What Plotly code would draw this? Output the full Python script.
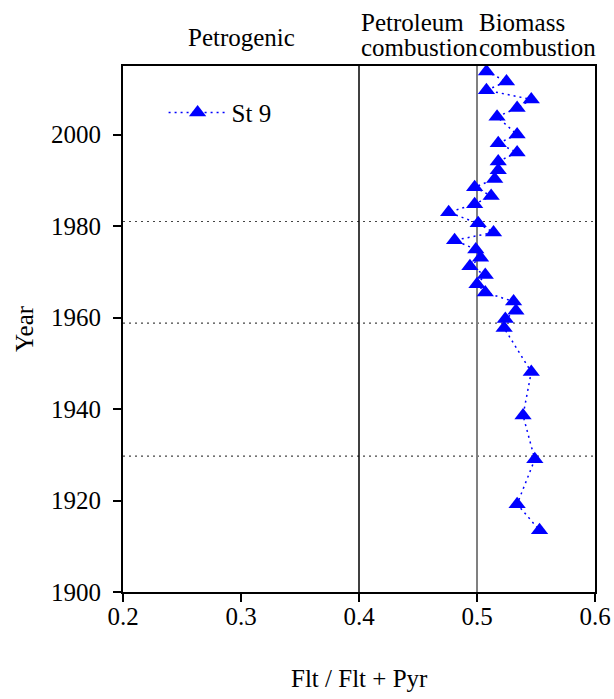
import plotly.graph_objects as go

# Data
years = [2013.8, 2011.6, 2009.7, 2007.7, 2005.8, 2003.9, 2000.0, 1998.1, 1996.1,
         1994.1, 1992.2, 1990.3, 1988.5, 1986.6, 1984.8, 1983.0, 1980.6, 1978.6,
         1976.9, 1974.9, 1973.1, 1971.2, 1969.3, 1967.3, 1965.5, 1963.5, 1961.5,
         1959.7, 1957.7, 1948.1, 1938.6, 1929.0, 1919.2, 1913.5]
ratio = [0.508, 0.525, 0.508, 0.546, 0.534, 0.517, 0.534, 0.518, 0.534,
         0.518, 0.518, 0.515, 0.498, 0.512, 0.498, 0.476, 0.501, 0.514,
         0.481, 0.499, 0.503, 0.494, 0.507, 0.500, 0.507, 0.531, 0.533,
         0.524, 0.523, 0.546, 0.539, 0.549, 0.534, 0.553]
series_name = "St 9"
ref_years = [1981, 1958.8, 1929.7]
x_ticks = [0.2, 0.3, 0.4, 0.5, 0.6]
y_ticks = [1900, 1920, 1940, 1960, 1980, 2000]

FONT = "Liberation Serif"
FS = 25

fig = go.Figure()
fig.add_trace(go.Scatter(
    x=ratio, y=years, mode="lines+markers", name=series_name,
    line=dict(color="#0000FF", width=1.5, dash="2px,4px"),
    marker=dict(symbol="triangle-up", size=15, color="#0000FF"),
))

shapes = []
for yr in ref_years:
    shapes.append(dict(type="line", xref="paper", x0=0, x1=1, yref="y", y0=yr, y1=yr,
                       line=dict(color="#444444", width=1.2, dash="2px,4px"), layer="below"))
shapes.append(dict(type="line", xref="x", x0=0.4, x1=0.4, yref="paper", y0=0, y1=1,
                   line=dict(color="black", width=1.5), layer="below"))
shapes.append(dict(type="line", xref="x", x0=0.5, x1=0.5, yref="paper", y0=0, y1=1,
                   line=dict(color="#808080", width=2), layer="below"))


def top_label(text, x, yshift, xanchor="left"):
    return dict(text=text, x=x, xref="x", y=1, yref="paper", yshift=yshift,
                showarrow=False, xanchor=xanchor, yanchor="bottom",
                font=dict(family=FONT, size=FS, color="black"))


annotations = [
    dict(text="Petrogenic", x=0.3, xref="x", y=1, yref="paper", yshift=29,
         showarrow=False, xanchor="center", yanchor="middle",
         font=dict(family=FONT, size=FS, color="black")),
    top_label("Petroleum", 0.4, 28),
    top_label("combustion", 0.4, 3),
    top_label("Biomass", 0.5, 28),
    top_label("combustion", 0.5, 3),
    dict(text="Flt / Flt + Pyr", x=0.5, xref="paper", y=0, yref="paper", yshift=-86,
         showarrow=False, xanchor="center", yanchor="middle",
         font=dict(family=FONT, size=FS, color="black")),
    dict(text="Year", x=0, xref="paper", xshift=-99, y=0.5, yref="paper", textangle=-90,
         showarrow=False, xanchor="center", yanchor="middle",
         font=dict(family=FONT, size=FS, color="black")),
]

fig.update_layout(
    width=614, height=699,
    margin=dict(l=123, r=19, t=66, b=107),
    paper_bgcolor="white", plot_bgcolor="white",
    font=dict(family=FONT, size=FS, color="black"),
    shapes=shapes, annotations=annotations,
    legend=dict(x=0.086, y=0.911, xanchor="left", yanchor="middle",
                bgcolor="rgba(0,0,0,0)", font=dict(family=FONT, size=FS),
                itemwidth=58),
    showlegend=True,
)
fig.update_xaxes(
    range=[0.2, 0.6], tickvals=x_ticks, ticktext=[f"{v:.1f}" for v in x_ticks],
    showgrid=False, zeroline=False, showline=True, linecolor="black", linewidth=2,
    mirror=True, ticks="outside", ticklen=8, tickwidth=1.5, tickcolor="black",
    automargin=False, ticklabelstandoff=-7,
)
fig.update_yaxes(
    range=[1900, 2015], tickvals=y_ticks,
    showgrid=False, zeroline=False, showline=True, linecolor="black", linewidth=2,
    mirror=True, ticks="outside", ticklen=8, tickwidth=1.5, tickcolor="black",
    automargin=False, ticklabelstandoff=7,
)

fig.write_html(
    "out.html",
    config={"displayModeBar": False},
    post_script="document.body.style.margin='0';document.body.style.overflow='hidden';",
)
